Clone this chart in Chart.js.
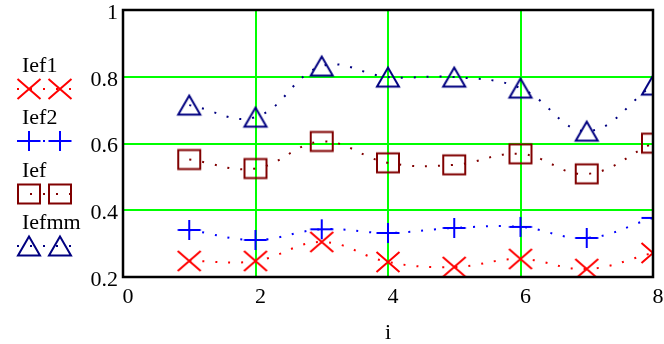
<!DOCTYPE html>
<html>
<head>
<meta charset="utf-8">
<script src="https://cdn.jsdelivr.net/npm/chart.js@4.4.1/dist/chart.umd.min.js"></script>
<style>
  html, body { margin: 0; padding: 0; background: #fff; }
  #wrap { width: 664px; height: 344px; }
</style>
</head>
<body>
<div id="wrap"><canvas id="chart"></canvas></div>
<script>
// values, i = 1..8
const index = [1, 2, 3, 4, 5, 6, 7, 8]
const ief1 = [0.248, 0.248, 0.305, 0.245, 0.230, 0.254, 0.224, 0.272]
const ief2 = [0.341, 0.311, 0.343, 0.332, 0.347, 0.350, 0.317, 0.377]
const ief = [0.552, 0.525, 0.606, 0.542, 0.536, 0.569, 0.509, 0.601]
const iefmm = [0.715, 0.679, 0.832, 0.799, 0.799, 0.766, 0.637, 0.775]
const seriesNames = ["Ief1", "Ief2", "Ief", "Iefmm"]
const xTicks = [0, 2, 4, 6, 8]
const yTicks = [0.2, 0.4, 0.6, 0.8, 1]

const serif = "'Liberation Serif', 'Times New Roman', serif"

// small canvases used as point styles (Mathcad-like symbols)
function marker(kind, color) {
  const c = document.createElement("canvas")
  c.width = 28
  c.height = 28
  const g = c.getContext("2d")
  g.strokeStyle = color
  g.lineWidth = 2
  g.beginPath()
  if (kind === "x") {
    g.moveTo(2.5, 4); g.lineTo(25.5, 24)
    g.moveTo(25.5, 4); g.lineTo(2.5, 24)
  } else if (kind === "plus") {
    g.moveTo(2.5, 14); g.lineTo(25.5, 14)
    g.moveTo(14, 4); g.lineTo(14, 24)
  } else if (kind === "box") {
    g.rect(3, 4.5, 22, 19)
  } else {
    g.moveTo(14, 4.5); g.lineTo(25, 23.5); g.lineTo(3, 23.5); g.closePath()
  }
  g.stroke()
  return c
}

function makeSeries(name, values, color, kind) {
  return {
    label: name,
    data: index.map((x, k) => ({ x: x, y: values[k] })),
    borderColor: color,
    backgroundColor: color,
    borderWidth: 2,
    borderDash: [2, 11],
    tension: 0.4,
    fill: false,
    pointStyle: marker(kind, color),
    pointRadius: 12,
    clip: 0,
  }
}

// legend at the left: name above, then two symbols joined by the dotted trace
const sideLegend = {
  id: "sideLegend",
  afterDraw(chart) {
    const ctx = chart.ctx
    ctx.save()
    ctx.font = "22px " + serif
    ctx.textBaseline = "alphabetic"
    ctx.textAlign = "left"
    chart.data.datasets.forEach((ds, k) => {
      const base = 72 + k * 52.3
      const my = Math.round(base + 17)
      ctx.fillStyle = "#000"
      ctx.fillText(ds.label, 22, base)
      ctx.strokeStyle = ds.borderColor
      ctx.lineWidth = 2
      ctx.setLineDash([2, 11])
      ctx.beginPath()
      ctx.moveTo(17, my)
      ctx.lineTo(72, my)
      ctx.stroke()
      ctx.setLineDash([])
      ctx.drawImage(ds.pointStyle, 29 - 14, my - 14)
      ctx.drawImage(ds.pointStyle, 60 - 14, my - 14)
    })
    ctx.restore()
  },
}

const frame = {
  id: "frame",
  afterDatasetsDraw(chart) {
    const { left, top, right, bottom } = chart.chartArea
    const ctx = chart.ctx
    ctx.save()
    ctx.strokeStyle = "#000"
    ctx.lineWidth = 2.5
    ctx.strokeRect(left, top, right - left, bottom - top)
    ctx.restore()
  },
}

const innerGreen = (min, max) => (c) =>
  c.tick && (c.tick.value === min || c.tick.value === max) ? "rgba(0,0,0,0)" : "#00ff00"

new Chart(document.getElementById("chart"), {
  type: "line",
  data: {
    datasets: [
      makeSeries(seriesNames[0], ief1, "#ff0000", "x"),
      makeSeries(seriesNames[1], ief2, "#0000ff", "plus"),
      makeSeries(seriesNames[2], ief, "#800000", "box"),
      makeSeries(seriesNames[3], iefmm, "#000080", "tri"),
    ],
  },
  options: {
    responsive: true,
    maintainAspectRatio: false,
    animation: false,
    layout: {
      autoPadding: false,
      padding: { top: 10, right: 11, left: 0, bottom: 0 },
    },
    scales: {
      x: {
        type: "linear",
        min: 0,
        max: 8,
        afterBuildTicks: (s) => { s.ticks = xTicks.map((v) => ({ value: v })) },
        afterFit: (s) => {
          s.height = 67
          s.paddingLeft = 0
          s.paddingRight = 0
        },
        grid: { color: innerGreen(0, 8), lineWidth: 2, drawTicks: false },
        border: { display: false },
        ticks: {
          color: "#000",
          font: { family: serif, size: 22 },
          padding: 7,
          labelOffset: 5,
          maxRotation: 0,
          callback: (v) => String(v),
        },
        title: {
          display: true,
          text: "i",
          color: "#000",
          font: { family: serif, size: 22, lineHeight: 1 },
          padding: 0,
        },
      },
      y: {
        min: 0.2,
        max: 1,
        afterBuildTicks: (s) => { s.ticks = yTicks.map((v) => ({ value: v })) },
        afterFit: (s) => {
          s.width = 123
          s.paddingTop = 0
          s.paddingBottom = 0
        },
        grid: { color: innerGreen(0.2, 1), lineWidth: 2, drawTicks: false },
        border: { display: false },
        ticks: {
          color: "#000",
          font: { family: serif, size: 22 },
          padding: 5,
          labelOffset: 3,
          callback: (v) => String(v),
        },
      },
    },
    plugins: {
      legend: { display: false },
      tooltip: { enabled: false },
    },
  },
  plugins: [sideLegend, frame],
})
</script>
</body>
</html>
